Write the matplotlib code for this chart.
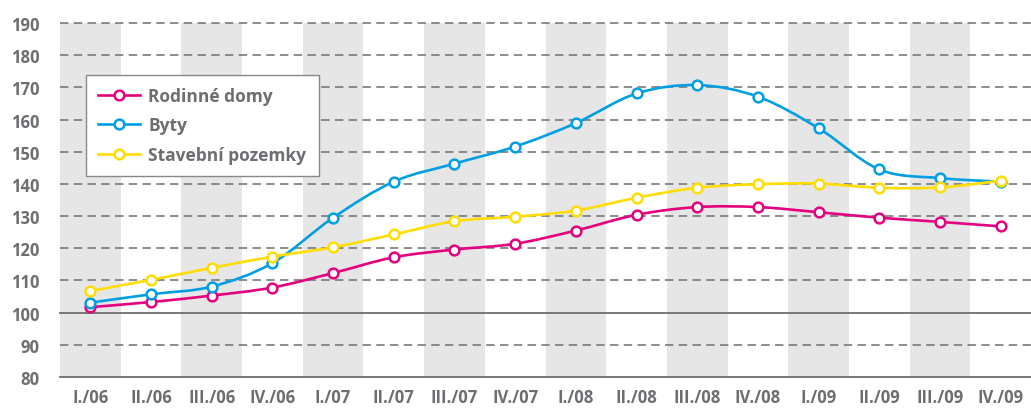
import matplotlib.pyplot as plt
import numpy as np
from matplotlib.path import Path
from matplotlib.patches import PathPatch
from matplotlib.lines import Line2D

kvartaly = ['I./06', 'II./06', 'III./06', 'IV./06', 'I./07', 'II./07', 'III./07', 'IV./07',
            'I./08', 'II./08', 'III./08', 'IV./08', 'I./09', 'II./09', 'III./09', 'IV./09']
rodinne_domy = [101.7, 103.3, 105.3, 107.8, 112.3, 117.2, 119.6, 121.4,
                125.5, 130.4, 132.8, 132.8, 131.2, 129.5, 128.2, 126.8]
byty = [103.1, 105.7, 108.1, 115.4, 129.5, 140.7, 146.3, 151.6,
        158.9, 168.1, 170.7, 167.1, 157.3, 144.5, 141.8, 140.7]
pozemky = [106.7, 110.2, 113.9, 117.4, 120.3, 124.3, 128.4, 129.8,
           131.7, 135.7, 138.8, 139.9, 140.1, 138.8, 138.9, 141.0]
yticks = [80, 90, 100, 110, 120, 130, 140, 150, 160, 170, 180, 190]

serie = [('Rodinné domy', rodinne_domy, '#e5007e'),
         ('Byty', byty, '#009fe3'),
         ('Stavební pozemky', pozemky, '#ffdd00')]

seda = '#6d6e71'
plt.rcParams['font.family'] = ['Open Sans', 'DejaVu Sans']

fig = plt.figure(figsize=(10.31, 4.10), dpi=100)
ax = fig.add_axes([60 / 1031, 1 - 378 / 410, 1 - 60 / 1031, (378 - 24) / 410])

x = np.arange(len(kvartaly))
ax.set_xlim(-0.5, len(kvartaly) - 0.5)
ax.set_ylim(80, 190)

# sede pruhy
for i in range(0, len(kvartaly), 2):
    ax.axvspan(i - 0.5, i + 0.5, color='#e6e6e6', lw=0, zorder=0)

# mrizka
for v in yticks:
    if v in (80, 100):
        ax.axhline(v, color=seda, lw=1.3, zorder=1, clip_on=False)
    else:
        ax.axhline(v, color=seda, lw=1.1, dashes=(5.5, 3.5), zorder=1, clip_on=False)


def hladka_cesta(xs, ys, t=1 / 6):
    verts = [(xs[0], ys[0])]
    codes = [Path.MOVETO]
    n = len(xs)
    for i in range(n - 1):
        p0 = (xs[max(i - 1, 0)], ys[max(i - 1, 0)])
        p1 = (xs[i], ys[i])
        p2 = (xs[i + 1], ys[i + 1])
        p3 = (xs[min(i + 2, n - 1)], ys[min(i + 2, n - 1)])
        c1 = (p1[0] + (p2[0] - p0[0]) * t, p1[1] + (p2[1] - p0[1]) * t)
        c2 = (p2[0] - (p3[0] - p1[0]) * t, p2[1] - (p3[1] - p1[1]) * t)
        verts += [c1, c2, p2]
        codes += [Path.CURVE4] * 3
    return Path(verts, codes)


handles = []
for k, (nazev, hodnoty, barva) in enumerate(serie):
    z = 3 + k
    ax.add_patch(PathPatch(hladka_cesta(x, hodnoty), fill=False, edgecolor=barva,
                           lw=1.9, capstyle='round', zorder=z))
    ax.plot(x, hodnoty, 'o', ms=7, mfc='white', mec=barva, mew=1.8, zorder=z + 0.5)
    handles.append(Line2D([], [], color=barva, lw=1.9, marker='o', ms=7,
                          mfc='white', mec=barva, mew=1.8))

ax.set_xticks(x)
ax.set_xticklabels(kvartaly)
ax.set_yticks(yticks)
ax.tick_params(length=0, colors=seda, labelsize=12)
ax.tick_params(axis='y', pad=15)
ax.tick_params(axis='x', pad=8)
for lab in ax.get_xticklabels() + ax.get_yticklabels():
    lab.set_fontweight('bold')
for s in ax.spines.values():
    s.set_visible(False)

leg = ax.legend(handles, [s[0] for s in serie], loc='upper left',
                bbox_to_anchor=(26 / 971, (378 - 76) / 354), frameon=True,
                fancybox=False, edgecolor='#888888', framealpha=1,
                handlelength=2.4, handletextpad=0.5, labelspacing=0.65,
                borderpad=0.7, borderaxespad=0,
                prop={'size': 12.5, 'weight': 'bold'})
leg.get_frame().set_linewidth(1.0)
leg.set_zorder(10)
for t in leg.get_texts():
    t.set_color(seda)

fig.savefig('out.png', dpi=100)
